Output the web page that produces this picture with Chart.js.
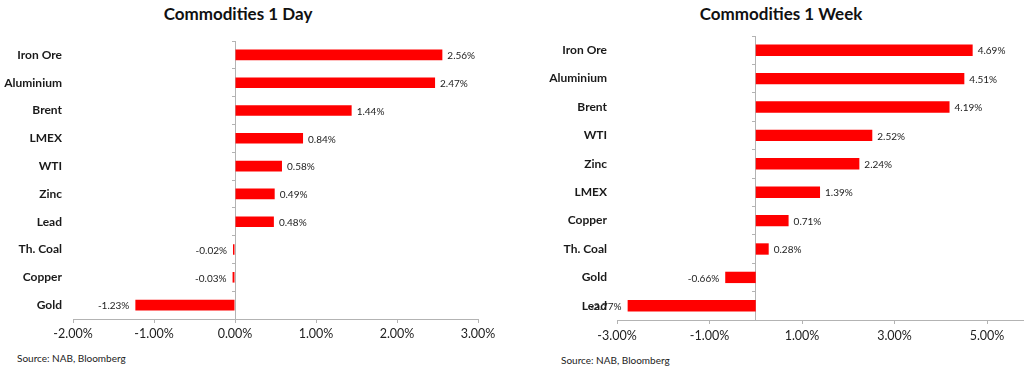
<!DOCTYPE html>
<html>
<head>
<meta charset="utf-8">
<script src="https://cdn.jsdelivr.net/npm/chart.js@4.4.1/dist/chart.umd.min.js"></script>
<style>
  html, body { margin: 0; padding: 0; background: #fff; width: 1024px; height: 370px; overflow: hidden; }
  .box { position: absolute; top: 0; width: 512px; height: 350px; }
  .title { position: absolute; top: 3px; font: bold 17px Lato, "Open Sans", sans-serif; color: #111; white-space: nowrap; transform: translateX(-50%); }
  .src { position: absolute; font: 10px Lato, "Open Sans", sans-serif; color: #222; white-space: nowrap; }
</style>
</head>
<body>
<div class="title" style="left:238px">Commodities 1 Day</div>
<div class="title" style="left:781px">Commodities 1 Week</div>
<div class="box" style="left:0"><canvas id="c1" width="512" height="350"></canvas></div>
<div class="box" style="left:512px"><canvas id="c2" width="512" height="350"></canvas></div>
<div class="src" style="left:17px; top:352px">Source: NAB, Bloomberg</div>
<div class="src" style="left:561px; top:354px">Source: NAB, Bloomberg</div>
<script>
const dayCategories = ["Iron Ore", "Aluminium", "Brent", "LMEX", "WTI", "Zinc", "Lead", "Th. Coal", "Copper", "Gold"];
const dayValues = [2.56, 2.47, 1.44, 0.84, 0.58, 0.49, 0.48, -0.02, -0.03, -1.23];
const dayTicks = [-2, -1, 0, 1, 2, 3];

const weekCategories = ["Iron Ore", "Aluminium", "Brent", "WTI", "Zinc", "LMEX", "Copper", "Th. Coal", "Gold", "Lead"];
const weekValues = [4.69, 4.51, 4.19, 2.52, 2.24, 1.39, 0.71, 0.28, -0.66, -2.77];
const weekTicks = [-3, -1, 1, 3, 5];

const FONT = 'Lato, "Open Sans", sans-serif';
const AXIS = '#b3b3b3';

const valueLabels = {
  id: 'valueLabels',
  afterDatasetsDraw(chart) {
    const ctx = chart.ctx;
    const meta = chart.getDatasetMeta(0);
    const data = chart.data.datasets[0].data;
    ctx.save();
    ctx.font = '10px ' + FONT;
    ctx.fillStyle = '#222';
    ctx.textBaseline = 'middle';
    meta.data.forEach((bar, i) => {
      const v = data[i];
      const txt = v.toFixed(2) + '%';
      if (v >= 0) { ctx.textAlign = 'left'; ctx.fillText(txt, bar.x + 5, bar.y + 1); }
      else { ctx.textAlign = 'right'; ctx.fillText(txt, bar.x - 6, bar.y + 1); }
    });
    ctx.restore();
  }
};

function makeChart(id, cats, vals, ticks, cfg) {
  return new Chart(document.getElementById(id), {
    type: 'bar',
    data: {
      labels: cats,
      datasets: [{
        data: vals,
        backgroundColor: '#ff0000',
        borderWidth: 0,
        minBarLength: 2,
        barPercentage: 1,
        categoryPercentage: cfg.cat
      }]
    },
    options: {
      indexAxis: 'y',
      responsive: false,
      animation: false,
      events: [],
      layout: { padding: { top: cfg.top, right: cfg.right, left: 0, bottom: 0 } },
      plugins: { legend: { display: false }, tooltip: { enabled: false }, title: { display: false } },
      scales: {
        x: {
          type: 'linear',
          min: cfg.min, max: cfg.max,
          afterBuildTicks(scale) { scale.ticks = ticks.map(v => ({ value: v })); },
          afterFit(scale) { scale.height = cfg.xh; },
          border: { display: true, color: AXIS, width: 1 },
          grid: { drawOnChartArea: false, drawTicks: true, tickLength: 4, color: AXIS },
          ticks: {
            font: { family: FONT, size: 12.5 },
            color: '#222',
            padding: cfg.tpad,
            maxRotation: 0,
            autoSkip: false,
            callback: v => v.toFixed(2) + '%'
          }
        },
        y: {
          type: 'category',
          position: 'left',
          afterFit(scale) { scale.width = cfg.yw; },
          border: { display: false },
          grid: { display: false, drawTicks: false },
          ticks: { font: { family: FONT, size: 12, weight: 'bold' }, color: '#1a1a1a', padding: cfg.ypad, autoSkip: false }
        },
        y2: {
          type: 'category',
          position: { x: 0 },
          border: { display: true, color: AXIS, width: 1 },
          grid: { offset: true, drawOnChartArea: false, drawTicks: true, tickLength: 3, color: AXIS },
          ticks: { display: false }
        }
      }
    },
    plugins: [valueLabels]
  });
}

makeChart('c1', dayCategories, dayValues, dayTicks,
  { min: -2, max: 3, top: 41, right: 34, xh: 31, yw: 73, ypad: 11, tpad: 3, cat: 0.38 });
makeChart('c2', weekCategories, weekValues, weekTicks,
  { min: -3, max: 5.8, top: 36, right: 0, xh: 30, yw: 105, ypad: 10, tpad: 4, cat: 0.40 });
</script>
</body>
</html>
